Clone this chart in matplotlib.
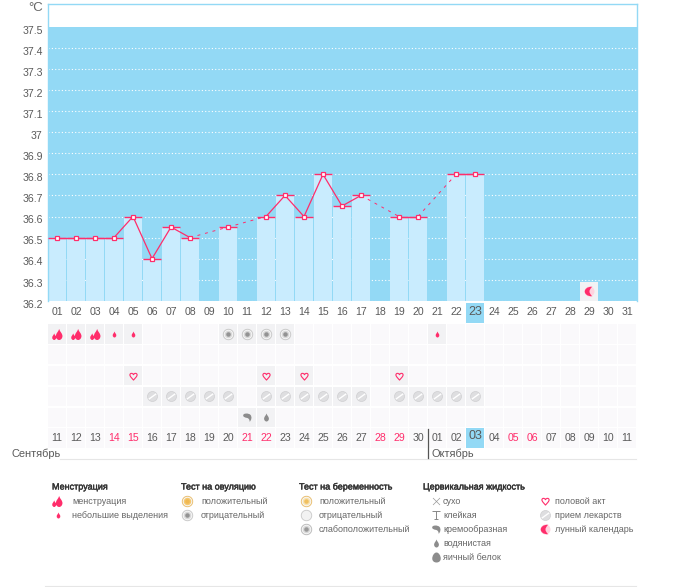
import matplotlib
matplotlib.use("Agg")
import matplotlib.pyplot as plt
import matplotlib.patheffects as pe
from matplotlib.path import Path
from matplotlib.transforms import ScaledTranslation

plt.rcParams["font.family"] = ["Liberation Sans", "DejaVu Sans"]

# temperature, None = not measured
days = list(range(1, 32))
temps = [36.5, 36.5, 36.5, 36.5, 36.6, 36.4, 36.55, 36.5, None, 36.55, None,
         36.6, 36.7, 36.6, 36.8, 36.65, 36.7, None, 36.6, 36.6, None, 36.8, 36.8]
y_ticks = [36.2, 36.3, 36.4, 36.5, 36.6, 36.7, 36.8, 36.9, 37.0, 37.1, 37.2, 37.3, 37.4, 37.5]
y_labels = ["36.2", "36.3", "36.4", "36.5", "36.6", "36.7", "36.8", "36.9", "37",
            "37.1", "37.2", "37.3", "37.4", "37.5"]
top_labels = ["%02d" % d for d in days]
date_labels = ["11", "12", "13", "14", "15", "16", "17", "18", "19", "20", "21", "22", "23",
               "24", "25", "26", "27", "28", "29", "30", "01", "02", "03", "04", "05", "06",
               "07", "08", "09", "10", "11"]
red_days = [4, 5, 11, 12, 18, 19, 25, 26]
today = 23
moon_days = [29]
moon_height = 0.09

# marks per row of the lower table
heavy_days = [1, 2, 3]
light_days = [4, 5, 21]
ovulation_neg_days = [10, 11, 12, 13]
sex_days = [5, 12, 14, 19]
pill_days = [6, 7, 8, 9, 10, 12, 13, 14, 15, 16, 17, 19, 20, 21, 22, 23]
creamy_days = [11]
watery_days = [12]

PINK = "#FF2D6B"
BLUE = "#93D9F5"
BAR = "#C9ECFE"
TEXT = "#5A5A5A"
CELL = "#FAF9FB"
CELL_ON = "#F2F2F4"
GRAY = "#8C8C8C"


def drop_path(dx=0.0, dy=0.0, s=1.0):
    pts = [(0, 1), (0.15, 0.5), (0.6, 0.2), (0.6, -0.3), (0.6, -0.7), (0.3, -1), (0, -1),
           (-0.3, -1), (-0.6, -0.7), (-0.6, -0.3), (-0.6, 0.2), (-0.15, 0.5), (0, 1), (0, 1)]
    codes = [Path.MOVETO] + [Path.CURVE4] * 12 + [Path.CLOSEPOLY]
    return Path([(x * s + dx, y * s + dy) for x, y in pts], codes)


HEAVY = Path.make_compound_path(drop_path(0.3, 0.0, 1.0), drop_path(-0.6, -0.4, 0.6))
LIGHT = drop_path()
HEART = Path([(0, -1), (-0.5, -0.4), (-1, 0), (-1, 0.45), (-1, 1), (-0.25, 1.05), (0, 0.5),
              (0.25, 1.05), (1, 1), (1, 0.45), (1, 0), (0.5, -0.4), (0, -1), (0, -1)],
             [Path.MOVETO] + [Path.CURVE4] * 12 + [Path.CLOSEPOLY])
COMMA = Path([(-1, 0.5), (-1, 1), (0.2, 1.1), (0.7, 0.6), (1.1, 0.1), (0.9, -0.6), (0.5, -1),
              (0.5, -0.5), (0.3, -0.2), (-0.1, -0.1), (-0.6, 0.0), (-1, 0.1), (-1, 0.5), (-1, 0.5)],
             [Path.MOVETO] + [Path.CURVE4] * 12 + [Path.CLOSEPOLY])
MOON = Path([(0.6, 1), (-0.6, 1.05), (-1, 0.4), (-1, 0), (-1, -0.4), (-0.6, -1.05), (0.6, -1),
             (0.2, -0.7), (0.0, -0.3), (0.0, 0), (0.0, 0.3), (0.2, 0.7), (0.6, 1), (0.6, 1)],
            [Path.MOVETO] + [Path.CURVE4] * 12 + [Path.CLOSEPOLY])
EGG = Path([(0, 1), (0.5, 1), (0.85, 0.3), (0.85, -0.2), (0.85, -0.7), (0.5, -1), (0, -1),
            (-0.5, -1), (-0.85, -0.7), (-0.85, -0.2), (-0.85, 0.3), (-0.5, 1), (0, 1), (0, 1)],
           [Path.MOVETO] + [Path.CURVE4] * 12 + [Path.CLOSEPOLY])
CROSS = Path([(-1, 1), (1, -1), (-1, -1), (1, 1)], [Path.MOVETO, Path.LINETO, Path.MOVETO, Path.LINETO])
STICKY = Path([(-1, 1), (1, 1), (0, 1), (0, -1), (-0.6, -1), (0.6, -1)],
              [Path.MOVETO, Path.LINETO, Path.MOVETO, Path.LINETO, Path.MOVETO, Path.LINETO])
SLASH = Path([(-0.7, -0.5), (0.7, 0.5)], [Path.MOVETO, Path.LINETO])


def px(n):
    return n * 0.72


def mark(ax, x, y, marker, size, color, edge="none", lw=0.0, zorder=5):
    ax.plot(x, y, ls="none", marker=marker, ms=px(size), mfc=color, mec=edge, mew=lw, zorder=zorder)


def pill(ax, x, y):
    mark(ax, x, y, "o", 10, "#DEDEE0", "#CFCFD1", 0.5)
    mark(ax, x, y, SLASH, 7.5, "none", "#FFFFFF", 1.0, zorder=6)


def ovulation(ax, x, y, outer, inner, core):
    mark(ax, x, y, "o", 10.5, "#F6F6F6", outer, 0.6)
    mark(ax, x, y, "o", 7.5, inner, "none", 0)
    mark(ax, x, y, "o", 4.5, core, "none", 0, zorder=6)


def moon(ax, x, y, size):
    mark(ax, x, y, "o", size, "#FFD3DF", zorder=5)
    mark(ax, x, y, MOON, size, PINK, zorder=6)


fig = plt.figure(figsize=(6.75, 5.87), dpi=100)
W, H = 675.0, 587.0

# upper chart
ax = fig.add_axes([47.5 / W, 1 - 300.8 / H, 589 / W, 297.3 / H])
ax.set_xlim(0.5, 31.5)
ax.set_ylim(36.2, 37.611)
ax.axhspan(36.2, 37.5, color=BLUE, lw=0, zorder=0)
for t in y_ticks[:-1]:
    ax.axhline(t, color="white", lw=0.8, ls=(0, (1, 2)), zorder=1)

meas_days = [d for d, t in zip(days, temps) if t is not None]
meas_vals = [t for t in temps if t is not None]
ax.bar(meas_days, [v - 36.2 for v in meas_vals], bottom=36.2, width=0.95, color=BAR, lw=0, zorder=2)
ax.bar(moon_days, [moon_height] * len(moon_days), bottom=36.2, width=0.95, color=CELL_ON, lw=0, zorder=2)
moon(ax, moon_days, [36.2 + moon_height / 2] * len(moon_days), 10)
ax.hlines(meas_vals, [d - 0.48 for d in meas_days], [d + 0.48 for d in meas_days],
          color=PINK, lw=1.0, zorder=3)

for i in range(len(meas_days) - 1):
    gap = meas_days[i + 1] - meas_days[i] > 1
    ax.plot(meas_days[i:i + 2], meas_vals[i:i + 2], color=PINK,
            lw=0.7 if gap else 0.9, ls=(0, (3, 5)) if gap else "-", zorder=4)
ax.plot(meas_days, meas_vals, ls="none", marker="s", ms=px(4.5), mfc="white", mec=PINK, mew=0.9, zorder=5)

ax.set_xticks([])
ax.set_yticks(y_ticks)
ax.set_yticklabels(y_labels, fontsize=7.6, color=TEXT)
ax.tick_params(axis="y", length=0, pad=3.5)
for lab in ax.get_yticklabels():
    lab.set_transform(lab.get_transform() + ScaledTranslation(0, -2.0 / 72, fig.dpi_scale_trans))
ax.spines["bottom"].set_visible(False)
for s in ["top", "left", "right"]:
    ax.spines[s].set_color(BLUE)
    ax.spines[s].set_linewidth(1.0)

# lower table, row -1 is the day row under the chart, row 5 the dates
tb = fig.add_axes([47.5 / W, 1 - 448.4 / H, 589 / W, 145.6 / H])
tb.set_xlim(0.5, 31.5)
tb.set_ylim(5.5, -1.5)
tb.axis("off")

on_cells = {0: heavy_days + light_days + ovulation_neg_days, 1: [], 2: sex_days, 3: pill_days,
            4: creamy_days + watery_days, 5: []}
for row in range(6):
    for d in days:
        c = CELL_ON if d in on_cells[row] else CELL
        if row == 5 and d == today:
            c = BLUE
        tb.bar(d, 0.93, bottom=row - 0.465, width=0.95, color=c, lw=0, zorder=1)
tb.bar(today, 0.95, bottom=-1.475, width=0.95, color=BLUE, lw=0, zorder=1)

for d, lab in zip(days, top_labels):
    big = d == today
    tb.text(d, -1.05, lab, ha="center", va="center", fontsize=9 if big else 7.6, color=TEXT)
for d, lab in zip(days, date_labels):
    big = d == today
    tb.text(d, 4.9 if big else 5.0, lab, ha="center", va="center", fontsize=9 if big else 7.6,
            color=PINK if d in red_days else TEXT, zorder=3)

mark(tb, heavy_days, [0] * len(heavy_days), HEAVY, 11, PINK)
mark(tb, light_days, [0] * len(light_days), LIGHT, 6, PINK)
for d in ovulation_neg_days:
    ovulation(tb, d, 0, "#C4C4C4", "#D8D8D8", "#939393")
mark(tb, sex_days, [2] * len(sex_days), HEART, 7.5, "none", PINK, 0.8)
for d in pill_days:
    pill(tb, d, 3)
mark(tb, creamy_days, [4] * len(creamy_days), COMMA, 9.5, GRAY)
mark(tb, watery_days, [4] * len(watery_days), LIGHT, 8, GRAY)

# overlay in pixels: month labels and the legend
ov = fig.add_axes([0, 0, 1, 1])
ov.set_xlim(0, W)
ov.set_ylim(H, 0)
ov.axis("off")
ov.patch.set_alpha(0)

ov.text(28, 8, "°C", fontsize=9.5, color="#666666", va="center")
ov.text(12, 453.5, "Сентябрь", fontsize=7.9, color=TEXT, va="center")
ov.text(431, 453.5, "Октябрь", fontsize=7.9, color=TEXT, va="center")
ov.plot([60, 636], [458.5, 458.5], color="#E6E6E6", lw=0.8)
ov.plot([427.5, 427.5], [429, 458], color="#555555", lw=0.9)
ov.plot([45, 636], [586, 586], color="#E6E6E6", lw=0.8)

headers = [(52, "Менструация"), (181, "Тест на овуляцию"), (299, "Тест на беременность"),
           (423, "Цервикальная жидкость")]
for x, s in headers:
    ov.text(x, 487, s, fontsize=6.5, color="#333333", va="center",
            path_effects=[pe.withStroke(linewidth=0.3, foreground="#333333")])

legend_rows = [(72, 501, "менструация"), (72, 515, "небольшие выделения"),
               (201, 501, "положительный"), (201, 515, "отрицательный"),
               (319, 501, "положительный"), (319, 515, "отрицательный"), (319, 529, "слабоположительный"),
               (443, 501, "сухо"), (443, 515, "клейкая"), (443, 529, "кремообразная"),
               (443, 543, "водянистая"), (443, 557, "яичный белок"),
               (555, 501, "половой акт"), (555, 515, "прием лекарств"), (555, 529, "лунный календарь")]
for x, y, s in legend_rows:
    ov.text(x, y, s, fontsize=6.45, color="#666666", va="center")

mark(ov, 57, 501, HEAVY, 11, PINK)
mark(ov, 57.5, 515, LIGHT, 6, PINK)
ovulation(ov, 187, 501, "#E8B860", "#F5C870", "#F0B850")
ovulation(ov, 187, 515, "#C4C4C4", "#D8D8D8", "#939393")
ovulation(ov, 306, 501, "#E8B860", "#F8E2B0", "#F0C060")
mark(ov, 306, 515, "o", 10.5, "#F2F2F2", "#C8C8C8", 0.6)
ovulation(ov, 306, 529, "#B5B5B5", "#D8D8D8", "#999999")
mark(ov, 435.5, 501, CROSS, 7, "none", "#999999", 0.5)
mark(ov, 435.5, 515, STICKY, 8, "none", "#888888", 0.7)
mark(ov, 435.5, 529, COMMA, 9.5, GRAY)
mark(ov, 435.5, 543, LIGHT, 8, GRAY)
mark(ov, 435.5, 557, EGG, 10, GRAY)
mark(ov, 544.5, 501, HEART, 7.5, "none", PINK, 0.8)
pill(ov, 545, 515)
moon(ov, 545, 529, 10)

fig.savefig("out.png", dpi=100)
plt.close()
